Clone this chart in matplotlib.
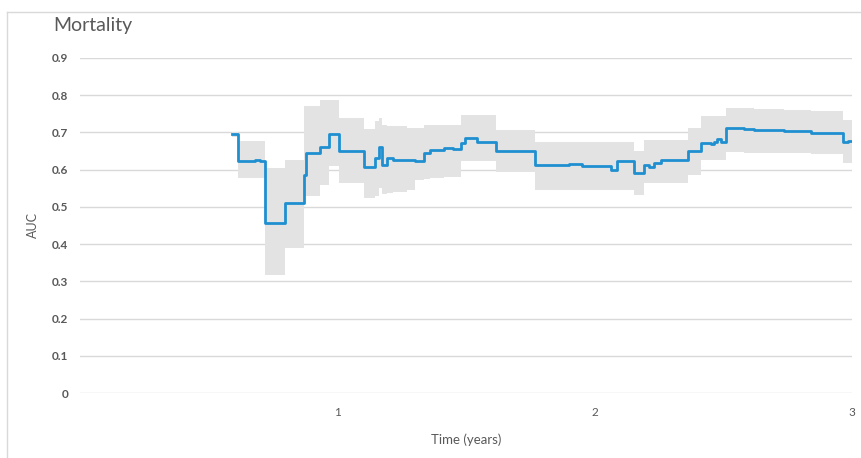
import numpy as np
import matplotlib.pyplot as plt
from matplotlib.lines import Line2D

# step data (time in years, AUC with band)
t = [0.590, 0.613, 0.680, 0.700, 0.720, 0.798, 0.869, 0.878, 0.934, 0.966,
     1.005, 1.102, 1.148, 1.161, 1.174, 1.193, 1.218, 1.272, 1.300, 1.336,
     1.362, 1.415, 1.450, 1.479, 1.498, 1.544, 1.615, 1.670, 1.770, 1.900,
     1.950, 2.062, 2.088, 2.152, 2.192, 2.211, 2.230, 2.257, 2.361, 2.412,
     2.451, 2.463, 2.477, 2.490, 2.510, 2.580, 2.620, 2.735, 2.840, 2.964,
     2.983, 3.000]
auc = [0.695, 0.624, 0.627, 0.622, 0.457, 0.510, 0.585, 0.646, 0.660, 0.695,
       0.649, 0.607, 0.632, 0.660, 0.613, 0.631, 0.627, 0.625, 0.622, 0.646,
       0.654, 0.658, 0.655, 0.671, 0.685, 0.674, 0.651, 0.649, 0.612, 0.614,
       0.611, 0.598, 0.622, 0.590, 0.613, 0.607, 0.618, 0.625, 0.651, 0.671,
       0.669, 0.675, 0.682, 0.674, 0.713, 0.710, 0.706, 0.703, 0.699, 0.673,
       0.678, 0.678]
lo = [0.688, 0.577, 0.577, 0.577, 0.317, 0.390, 0.530, 0.530, 0.560, 0.610,
      0.565, 0.525, 0.530, 0.550, 0.535, 0.537, 0.540, 0.546, 0.573, 0.575,
      0.578, 0.580, 0.580, 0.622, 0.622, 0.622, 0.594, 0.594, 0.546, 0.546,
      0.546, 0.546, 0.546, 0.532, 0.565, 0.565, 0.565, 0.565, 0.586, 0.626,
      0.626, 0.626, 0.626, 0.626, 0.648, 0.646, 0.645, 0.645, 0.642, 0.618,
      0.618, 0.618]
hi = [0.702, 0.676, 0.676, 0.676, 0.604, 0.626, 0.770, 0.770, 0.787, 0.787,
      0.740, 0.710, 0.730, 0.740, 0.720, 0.716, 0.716, 0.712, 0.712, 0.720,
      0.720, 0.720, 0.720, 0.747, 0.747, 0.747, 0.707, 0.707, 0.675, 0.675,
      0.675, 0.675, 0.675, 0.651, 0.680, 0.680, 0.680, 0.680, 0.712, 0.745,
      0.745, 0.745, 0.745, 0.745, 0.766, 0.765, 0.763, 0.760, 0.757, 0.734,
      0.734, 0.734]

title = "Mortality"
x_ticks = [1, 2, 3]
y_ticks = [0, 0.1, 0.2, 0.3, 0.4, 0.5, 0.6, 0.7, 0.8, 0.9]
txt_color = "#595959"

plt.rcParams['font.family'] = ['Lato', 'DejaVu Sans']

fig = plt.figure(figsize=(8.62, 4.58), dpi=100)
ax = fig.add_axes([80 / 862, 65 / 458, 772 / 862, 335 / 458])

ax.fill_between(t, lo, hi, step='post', color='#e3e3e3', lw=0)
ax.step(t, auc, where='post', color='#1f8fd0', lw=2)

ax.set_xlim(0, 3)
ax.set_ylim(0, 0.9)
ax.set_xticks(x_ticks)
ax.set_xticklabels([str(v) for v in x_ticks])
ax.set_yticks(y_ticks)
ax.set_yticklabels(["0"] + [f"{v:.1f}" for v in y_ticks[1:]])
ax.tick_params(length=0, colors=txt_color, labelsize=8.5)
ax.tick_params(axis='y', pad=8.5)
ax.tick_params(axis='x', pad=10)
for lab in ax.get_yticklabels():
    lab.set_fontweight('bold')
ax.grid(axis='y', color='#d9d9d9', lw=1)
ax.set_axisbelow(True)
for s in ax.spines.values():
    s.set_visible(False)

ax.set_ylabel("AUC", color=txt_color, fontsize=9, labelpad=9)
ax.set_xlabel("Time (years)", color=txt_color, fontsize=9.5, labelpad=11)
fig.text(53 / 862, 1 - 25 / 458, title, color=txt_color, fontsize=14,
         va='center', ha='left')

# outer chart border (left and top edges)
fig.add_artist(Line2D([7 / 862, 7 / 862], [0, 1 - 12 / 458], color='#d9d9d9', lw=1))
fig.add_artist(Line2D([7 / 862, 1], [1 - 12 / 458, 1 - 12 / 458], color='#d9d9d9', lw=1))

fig.savefig("out.png", dpi=100)
